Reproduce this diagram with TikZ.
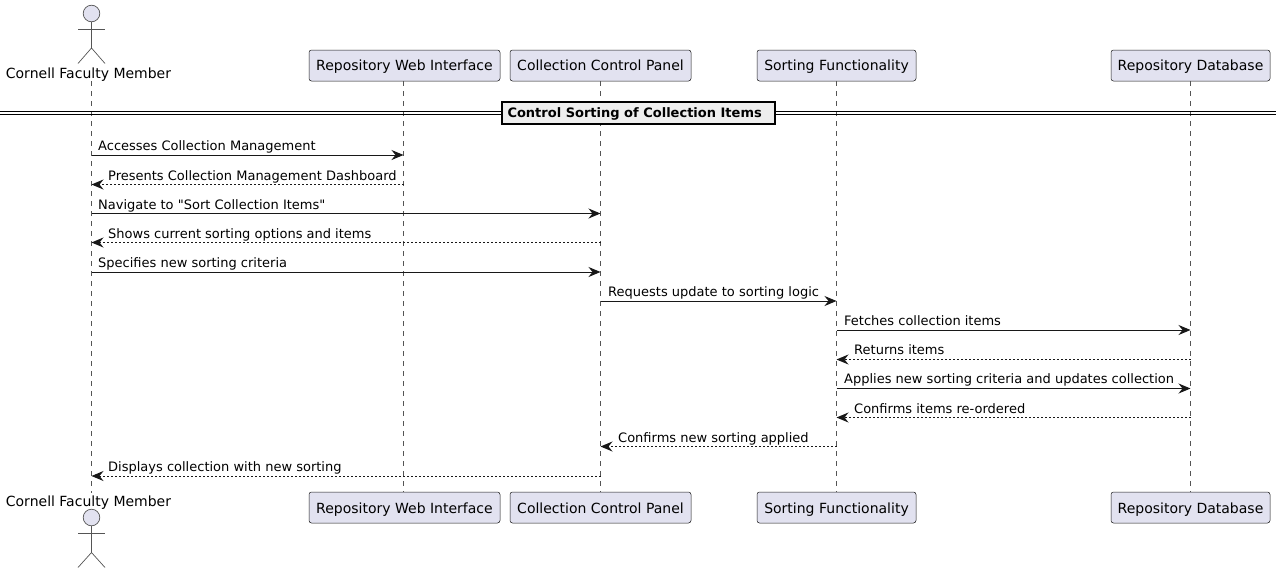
\documentclass[tikz,border=0pt]{standalone}
\usepackage{fontspec}
\setmainfont{DejaVu Sans}
\newfontfamily\plainfont{DejaVu Sans}
\usetikzlibrary{arrows.meta}
\definecolor{fillc}{HTML}{E2E2F0}
\definecolor{linec}{HTML}{181818}
\definecolor{titlec}{HTML}{EEEEEE}
\definecolor{grayc}{HTML}{555555}
\tikzset{
  x=1pt,y=-1pt,
  part/.style={draw=linec,fill=fillc,rounded corners=2.5pt,line width=0.5pt,minimum height=31pt,inner sep=0pt,text height=13pt,text depth=3pt,font=\plainfont\fontsize{14}{16}\selectfont,text=black},
  partlow/.style={part,text height=14pt,text depth=2pt},
  lifeline/.style={draw=grayc,line width=0.6pt,dash pattern=on 5pt off 5pt},
  call/.style={draw=linec,line width=1pt,-{Stealth[length=12pt,width=10pt,inset=4pt]}},
  back/.style={call,dash pattern=on 2pt off 2pt},
  msg/.style={anchor=base west,inner sep=0pt,font=\plainfont\fontsize{13}{15}\selectfont,text=black},
  actorline/.style={draw=grayc,line width=0.7pt},
  head/.style={circle,draw=grayc,fill=fillc,line width=0.7pt,minimum size=16.6pt,inner sep=0pt},
  aname/.style={anchor=base,inner sep=0pt,font=\plainfont\fontsize{14}{16}\selectfont,text=black},
  divline/.style={draw=black,line width=1pt},
  divbox/.style={draw=black,fill=titlec,line width=2pt,minimum width=273pt,minimum height=22pt,inner sep=0pt,text height=12pt,text depth=3pt,font=\plainfont\bfseries\fontsize{13}{15}\selectfont,text=black},
}
\begin{document}
\begin{tikzpicture}
\useasboundingbox (0,0) rectangle (1281,573);
% lifeline ends
\coordinate (at) at (91.5,81); \coordinate (ab) at (91.5,493);
\node[part,minimum width=191pt] (b) at (404.5,65.5) {Repository Web Interface};
\node[part,minimum width=181pt] (c) at (600.5,65.5) {Collection Control Panel};
\node[part,minimum width=159pt] (d) at (836.5,65.5) {Sorting Functionality};
\node[part,minimum width=159pt] (e) at (1190.5,65.5) {Repository Database};
\node[partlow,minimum width=191pt] (b2) at (404.5,507.5) {Repository Web Interface};
\node[partlow,minimum width=181pt] (c2) at (600.5,507.5) {Collection Control Panel};
\node[partlow,minimum width=159pt] (d2) at (836.5,507.5) {Sorting Functionality};
\node[partlow,minimum width=159pt] (e2) at (1190.5,507.5) {Repository Database};
\coordinate (bt) at (403.5,81); \coordinate (bb) at (403.5,492);
\coordinate (ct) at (600.5,81); \coordinate (cb) at (600.5,492);
\coordinate (dt) at (836.5,81); \coordinate (db) at (836.5,492);
\coordinate (et) at (1190.5,81); \coordinate (eb) at (1190.5,492);
\draw[lifeline] (at) -- (ab);
\draw[lifeline] (bt) -- (bb);
\draw[lifeline] (ct) -- (cb);
\draw[lifeline] (dt) -- (db);
\draw[lifeline] (et) -- (eb);
% actors
\node[head] (h1) at (91.5,13.5) {};
\coordinate (n1) at (91.5,48); \coordinate (al1) at (78,29); \coordinate (ar1) at (105,29);
\coordinate (ll1) at (78,63.5); \coordinate (lr1) at (105,63.5);
\draw[actorline] (h1) -- (n1);
\draw[actorline] (al1) -- (ar1);
\draw[actorline] (ll1) -- (n1) -- (lr1);
\node[aname] (an1) at (88.5,78) {Cornell Faculty Member};
\node[head] (h2) at (91.5,517.5) {};
\coordinate (n2) at (91.5,552.5); \coordinate (al2) at (78,533); \coordinate (ar2) at (105,533);
\coordinate (ll2) at (78,567.5); \coordinate (lr2) at (105,567.5);
\draw[actorline] (h2) -- (n2);
\draw[actorline] (al2) -- (ar2);
\draw[actorline] (ll2) -- (n2) -- (lr2);
\node[aname] (an2) at (88.5,506) {Cornell Faculty Member};
% divider
\coordinate (dl1) at (0,111.5); \coordinate (dr1) at (1276,111.5);
\coordinate (dl2) at (0,114.5); \coordinate (dr2) at (1276,114.5);
\draw[divline] (dl1) -- (dr1);
\draw[divline] (dl2) -- (dr2);
\node[divbox] (title) at (638,112.5) {\makebox[261pt][l]{Control Sorting of Collection Items}};
% messages
\coordinate (s1) at (91.5,155); \coordinate (t1) at (403.5,155);
\coordinate (s2) at (403.5,184.5); \coordinate (t2) at (91.5,184.5);
\coordinate (s3) at (91.5,213.5); \coordinate (t3) at (600.5,213.5);
\coordinate (s4) at (600.5,242.5); \coordinate (t4) at (91.5,242.5);
\coordinate (s5) at (91.5,272); \coordinate (t5) at (600.5,272);
\coordinate (s6) at (600.5,301); \coordinate (t6) at (836.5,301);
\coordinate (s7) at (836.5,330); \coordinate (t7) at (1190.5,330);
\coordinate (s8) at (1190.5,359.5); \coordinate (t8) at (836.5,359.5);
\coordinate (s9) at (836.5,388.5); \coordinate (t9) at (1190.5,388.5);
\coordinate (s10) at (1190.5,417.5); \coordinate (t10) at (836.5,417.5);
\coordinate (s11) at (836.5,446.5); \coordinate (t11) at (600.5,446.5);
\coordinate (s12) at (600.5,476); \coordinate (t12) at (91.5,476);
\draw[call] (s1) -- (t1);
\draw[back] (s2) -- (t2);
\draw[call] (s3) -- (t3);
\draw[back] (s4) -- (t4);
\draw[call] (s5) -- (t5);
\draw[call] (s6) -- (t6);
\draw[call] (s7) -- (t7);
\draw[back] (s8) -- (t8);
\draw[call] (s9) -- (t9);
\draw[back] (s10) -- (t10);
\draw[back] (s11) -- (t11);
\draw[back] (s12) -- (t12);
\node[msg] (l1) at (98,150) {Accesses Collection Management};
\node[msg] (l2) at (108,180) {Presents Collection Management Dashboard};
\node[msg] (l3) at (98,209) {Navigate to "Sort Collection Items"};
\node[msg] (l4) at (108,238) {Shows current sorting options and items};
\node[msg] (l5) at (98,267) {Specifies new sorting criteria};
\node[msg] (l6) at (608,296) {Requests update to sorting logic};
\node[msg] (l7) at (844,325) {Fetches collection items};
\node[msg] (l8) at (854,354) {Returns items};
\node[msg] (l9) at (844,383.5) {Applies new sorting criteria and updates collection};
\node[msg] (l10) at (854,413) {Confirms items re-ordered};
\node[msg] (l11) at (618,442) {Confirms new sorting applied};
\node[msg] (l12) at (108,471) {Displays collection with new sorting};
\end{tikzpicture}
\end{document}
